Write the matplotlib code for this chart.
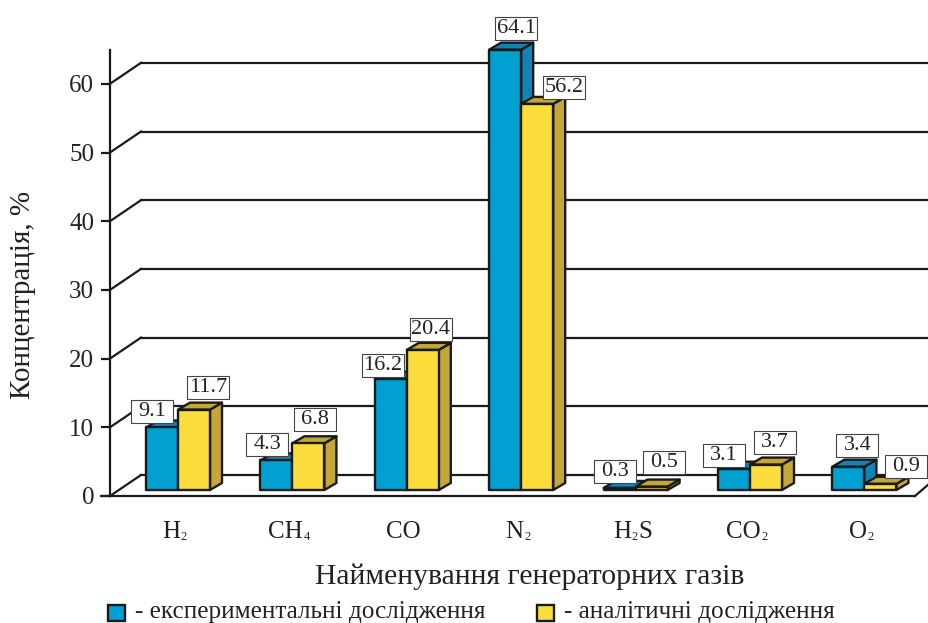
import matplotlib
matplotlib.use("Agg")
import matplotlib.pyplot as plt
from matplotlib.patches import Polygon, Rectangle
from matplotlib.transforms import IdentityTransform

plt.rcParams['font.family'] = ['Liberation Serif', 'DejaVu Serif']

# Data, subscripts split off as (main, sub) pieces
gases = [[('H', 0), ('2', 1)], [('CH', 0), ('4', 1)], [('CO', 0)], [('N', 0), ('2', 1)],
         [('H', 0), ('2', 1), ('S', 0)], [('CO', 0), ('2', 1)], [('O', 0), ('2', 1)]]
experimental = [9.1, 4.3, 16.2, 64.1, 0.3, 3.1, 3.4]
analytical = [11.7, 6.8, 20.4, 56.2, 0.5, 3.7, 0.9]
y_ticks = [0, 10, 20, 30, 40, 50, 60]

x_label = 'Найменування генераторних газів'
y_label = 'Концентрація, %'
legend_exp = '- експериментальні дослідження'
legend_ana = '- аналітичні дослідження'

# Where each value box sits relative to its bar top, in pixels
exp_offsets = [(-10, 16), (-9, 16), (-8, 14), (11, 22), (-5, 17), (-10, 14), (9, 22)]
ana_offsets = [(14, 23), (7, 24), (8, 21), (27, 17), (12, 25), (9, 23), (26, 18)]

W, H = 929, 623
PX_X = 114.4    # pixels per category
PX_Y = 6.87     # pixels per percent
BLUE, BLUE_DARK = '#00a0d0', '#1283b8'
YELLOW, YELLOW_DARK = '#fbdd3c', '#c4a737'
EDGE = '#1a1a1a'
TEXT = '#222222'

fig = plt.figure(figsize=(W / 100, H / 100), dpi=100)
ax = fig.add_axes([110 / W, (H - 496) / H, (W - 110) / W, 446 / H])
ax.set_xlim((110 - 178) / PX_X, (W - 178) / PX_X)
ax.set_ylim(0, 446 / PX_Y)
for s in ax.spines.values():
    s.set_visible(False)
ax.spines['left'].set_visible(True)
ax.spines['left'].set_linewidth(1.6)
ax.spines['left'].set_color(EDGE)
ax.patch.set_alpha(0)

wall_dx = 31 / PX_X     # depth of the chart box
wall_dy = 21 / PX_Y
bar_dx = 12 / PX_X      # depth of a bar
bar_dy = 7 / PX_Y
bar_w = 32 / PX_X
base = 6 / PX_Y         # bars stand a little forward of the axis
x_left = ax.get_xlim()[0]
x_right = ax.get_xlim()[1]

ax.set_yticks(y_ticks)
ax.set_yticklabels([str(t) for t in y_ticks], fontsize=18, color=TEXT)
ax.tick_params(axis='y', length=6.5, width=1.6, color=EDGE, pad=5)
ax.set_xticks([])

# back wall lines and the diagonals running back from the axis
for t in y_ticks:
    ax.plot([x_left, x_left + wall_dx], [t, t + wall_dy], color=EDGE, lw=1.6, clip_on=False, zorder=1)
    ax.plot([x_left + wall_dx, x_right], [t + wall_dy, t + wall_dy], color=EDGE, lw=1.6, clip_on=False, zorder=1)

# floor front edge
ax.plot([x_left - 9 / PX_X, x_right - 14 / PX_X], [0, 0], color=EDGE, lw=1.6, clip_on=False, zorder=1)
ax.plot([x_right - 14 / PX_X, x_right], [0, 12 / PX_Y], color=EDGE, lw=1.6, clip_on=False, zorder=1)


def draw_bar(x, val, color, dark, z):
    top = base + val
    kw = dict(edgecolor=EDGE, linewidth=1.7, joinstyle='round', clip_on=False, zorder=z)
    ax.add_patch(Polygon([(x + bar_w, base), (x + bar_w + bar_dx, base + bar_dy),
                          (x + bar_w + bar_dx, top + bar_dy), (x + bar_w, top)],
                         facecolor=dark, **kw))
    ax.add_patch(Polygon([(x, top), (x + bar_dx, top + bar_dy),
                          (x + bar_w + bar_dx, top + bar_dy), (x + bar_w, top)],
                         facecolor=dark, **kw))
    ax.add_patch(Rectangle((x, base), bar_w, val, facecolor=color, **kw))


def draw_value(x, val, off):
    # boxes all have the same size whatever the text width
    px, py = ax.transData.transform((x + bar_w / 2, base + val))
    px, py = px + off[0], py + off[1]
    fig.add_artist(Rectangle((px - 21, py - 12), 42, 23, transform=IdentityTransform(),
                             facecolor='white', edgecolor='#444444', linewidth=0.8, zorder=10))
    fig.text(px / W, (py - 0.5) / H, f'{val}', ha='center', va='center', fontsize=16, color=TEXT, zorder=11)


def draw_gas(center, pieces):
    # lay the pieces out left to right, then shift so the whole label is centred
    rend = fig.canvas.get_renderer()
    y_main = 1 - 538 / H
    y_sub = 1 - 540 / H
    texts = []
    x = 0
    for s, is_sub in pieces:
        t = fig.text(0, y_sub if is_sub else y_main, s, ha='left', va='baseline', color=TEXT,
                     fontsize=9 if is_sub else 18, zorder=5)
        w = t.get_window_extent(rend).width
        texts.append((t, x))
        x += w + 0.5
    for t, dx in texts:
        t.set_x((center - x / 2 + dx) / W)


for i in range(len(gases)):
    draw_bar(i - bar_w, experimental[i], BLUE, BLUE_DARK, 3)
    draw_bar(i, analytical[i], YELLOW, YELLOW_DARK, 4)
    draw_value(i - bar_w, experimental[i], exp_offsets[i])
    draw_value(i, analytical[i], ana_offsets[i])
    cx = ax.transData.transform((i, 0))[0] - 3
    draw_gas(cx, gases[i])

# axis titles and legend
fig.text(530 / W, 1 - 577 / H, x_label, ha='center', va='center', fontsize=21.3, color=TEXT)
fig.text(23 / W, 1 - 295 / H, y_label, ha='center', va='center', rotation=90, fontsize=21, color=TEXT)

for x0, label in [(108, legend_exp), (537, legend_ana)]:
    fig.add_artist(Rectangle((x0 / W, 1 - 621 / H), 17 / W, 16 / H, transform=fig.transFigure,
                             facecolor=BLUE if x0 == 108 else YELLOW, edgecolor=EDGE, linewidth=1.7))
    fig.text((x0 + 27) / W, 1 - 612 / H, label, ha='left', va='center', fontsize=18.2, color=TEXT)

fig.savefig('out.png', dpi=100)
